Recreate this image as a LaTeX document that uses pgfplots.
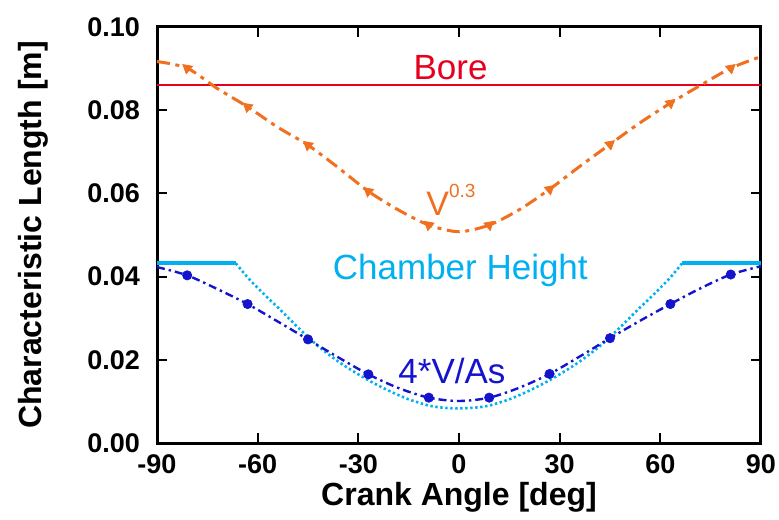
\documentclass[border=0pt]{standalone}
\usepackage{pgfplots}
\pgfplotsset{compat=1.18}
\usepackage{fontspec}
\setmainfont{Liberation Sans}
\definecolor{vorange}{RGB}{240,112,32}
\definecolor{borered}{RGB}{230,0,30}
\definecolor{chcyan}{RGB}{0,176,240}
\definecolor{avblue}{RGB}{20,20,205}
\begin{document}
\begin{tikzpicture}
\useasboundingbox (-78.5pt,-38pt) rectangle (311pt,221.5pt);
\begin{axis}[
  scale only axis, width=302pt, height=208pt,
  xmin=-90, xmax=90, ymin=0, ymax=0.1,
  xtick={-90,-60,-30,0,30,60,90},
  xticklabels={-90,-60,-30,0,30,60,90},
  ytick={0,0.02,0.04,0.06,0.08,0.1},
  yticklabels={0.00,0.02,0.04,0.06,0.08,0.10},
  tick align=inside, major tick length=5pt,
  every tick/.style={black, line width=1pt},
  axis line style={line width=1.5pt},
  ticklabel style={font=\fontsize{13.5pt}{14pt}\selectfont\bfseries},
  yticklabel style={xshift=-5pt},
  xticklabel style={yshift=-2.5pt},
  xlabel={Crank Angle [deg]}, ylabel={Characteristic Length [m]},
  label style={font=\fontsize{16pt}{17pt}\selectfont\bfseries},
  xlabel style={at={(axis description cs:0.5,-0.13)}, anchor=center},
  ylabel style={at={(axis description cs:-0.205,0.5)}, anchor=center, rotate=0},
  clip=false,
]
% Bore
\addplot[borered, line width=1pt] coordinates {(-90,0.086) (90,0.086)};
% V^0.3 line
\addplot[vorange, line width=1.5pt, dash pattern=on 6.5pt off 2.8pt on 2pt off 2.8pt, smooth] coordinates {
(-90,0.0917) (-81,0.0901) (-72,0.0852) (-63,0.0808) (-54,0.0759) (-45,0.0716) (-36,0.0662) (-27,0.0605) (-18,0.0560) (-9,0.0524) (0,0.0508)
(9,0.0524) (18,0.0561) (27,0.0610) (36,0.0665) (45,0.0718) (54,0.0770) (63,0.0817) (72,0.0860) (81,0.0901) (90,0.0929)};
\addplot[vorange, only marks, mark=triangle*, mark size=2.8pt, mark options={rotate=50}] coordinates {
(-81,0.0901) (-63,0.0808) (-45,0.0716) (-27,0.0605) (-9,0.0524)};
\addplot[vorange, only marks, mark=triangle*, mark size=2.8pt, mark options={rotate=-50}] coordinates {
(9,0.0524) (27,0.0610) (45,0.0718) (63,0.0817) (81,0.0901)};
% Chamber height
\addplot[chcyan, line width=2pt] coordinates {(-90,0.0432) (-66.5,0.0432)};
\addplot[chcyan, line width=2pt] coordinates {(66.5,0.0432) (90,0.0432)};
\addplot[chcyan, line width=1.3pt, dash pattern=on 1.2pt off 1.3pt, smooth] coordinates {
(-66.5,0.0432) (-63,0.0398) (-60,0.0373) (-57,0.0349) (-54,0.0326) (-51,0.0302) (-48,0.0278) (-45,0.0255) (-42,0.0233) (-39,0.0214) (-36,0.0196) (-33,0.0180) (-30,0.0165) (-27,0.0151) (-24,0.0138) (-21,0.0126) (-18,0.0115) (-15,0.0105) (-12,0.0097) (-9,0.0090) (-6,0.0086) (-3,0.0084) (0,0.0083)
(3,0.0084) (6,0.0086) (9,0.0090) (12,0.0097) (15,0.0105) (18,0.0115) (21,0.0126) (24,0.0138) (27,0.0151) (30,0.0165) (33,0.0180) (36,0.0196) (39,0.0214) (42,0.0233) (45,0.0255) (48,0.0278) (51,0.0302) (54,0.0326) (57,0.0349) (60,0.0373) (63,0.0398) (66.5,0.0432)};
% 4V/As
\addplot[avblue, line width=1.2pt, dash pattern=on 4pt off 2pt on 1.2pt off 2pt, smooth] coordinates {
(-90,0.0423) (-81,0.0403) (-72,0.0370) (-63,0.0334) (-54,0.0292) (-45,0.0249) (-36,0.0206) (-27,0.0165) (-18,0.0132) (-9,0.0109) (0,0.0101)
(9,0.0109) (18,0.0133) (27,0.0166) (36,0.0208) (45,0.0252) (54,0.0294) (63,0.0334) (72,0.0372) (81,0.0405) (90,0.0425)};
\addplot[avblue, only marks, mark=*, mark size=2.3pt] coordinates {
(-81,0.0403) (-63,0.0334) (-45,0.0249) (-27,0.0165) (-9,0.0109) (9,0.0109) (27,0.0166) (45,0.0252) (63,0.0334) (81,0.0405)};
% labels
\node[anchor=base, text=borered, font=\fontsize{17.5pt}{18pt}\selectfont, inner sep=0pt] at (axis cs:-2.5,0.0873) {Bore};
\node[anchor=base, text=vorange, font=\fontsize{17pt}{18pt}\selectfont, inner sep=0pt] at (axis cs:-2.4,0.0548) {V\raisebox{9pt}{\fontsize{9.5pt}{10pt}\selectfont 0.3}};
\node[anchor=base, text=chcyan, font=\fontsize{17.5pt}{18pt}\selectfont, inner sep=0pt] at (axis cs:0.4,0.0394) {Chamber Height};
\node[anchor=base, text=avblue, font=\fontsize{17.5pt}{18pt}\selectfont, inner sep=0pt] at (axis cs:-2.1,0.01435) {4*V/As};
\end{axis}
\end{tikzpicture}
\end{document}
